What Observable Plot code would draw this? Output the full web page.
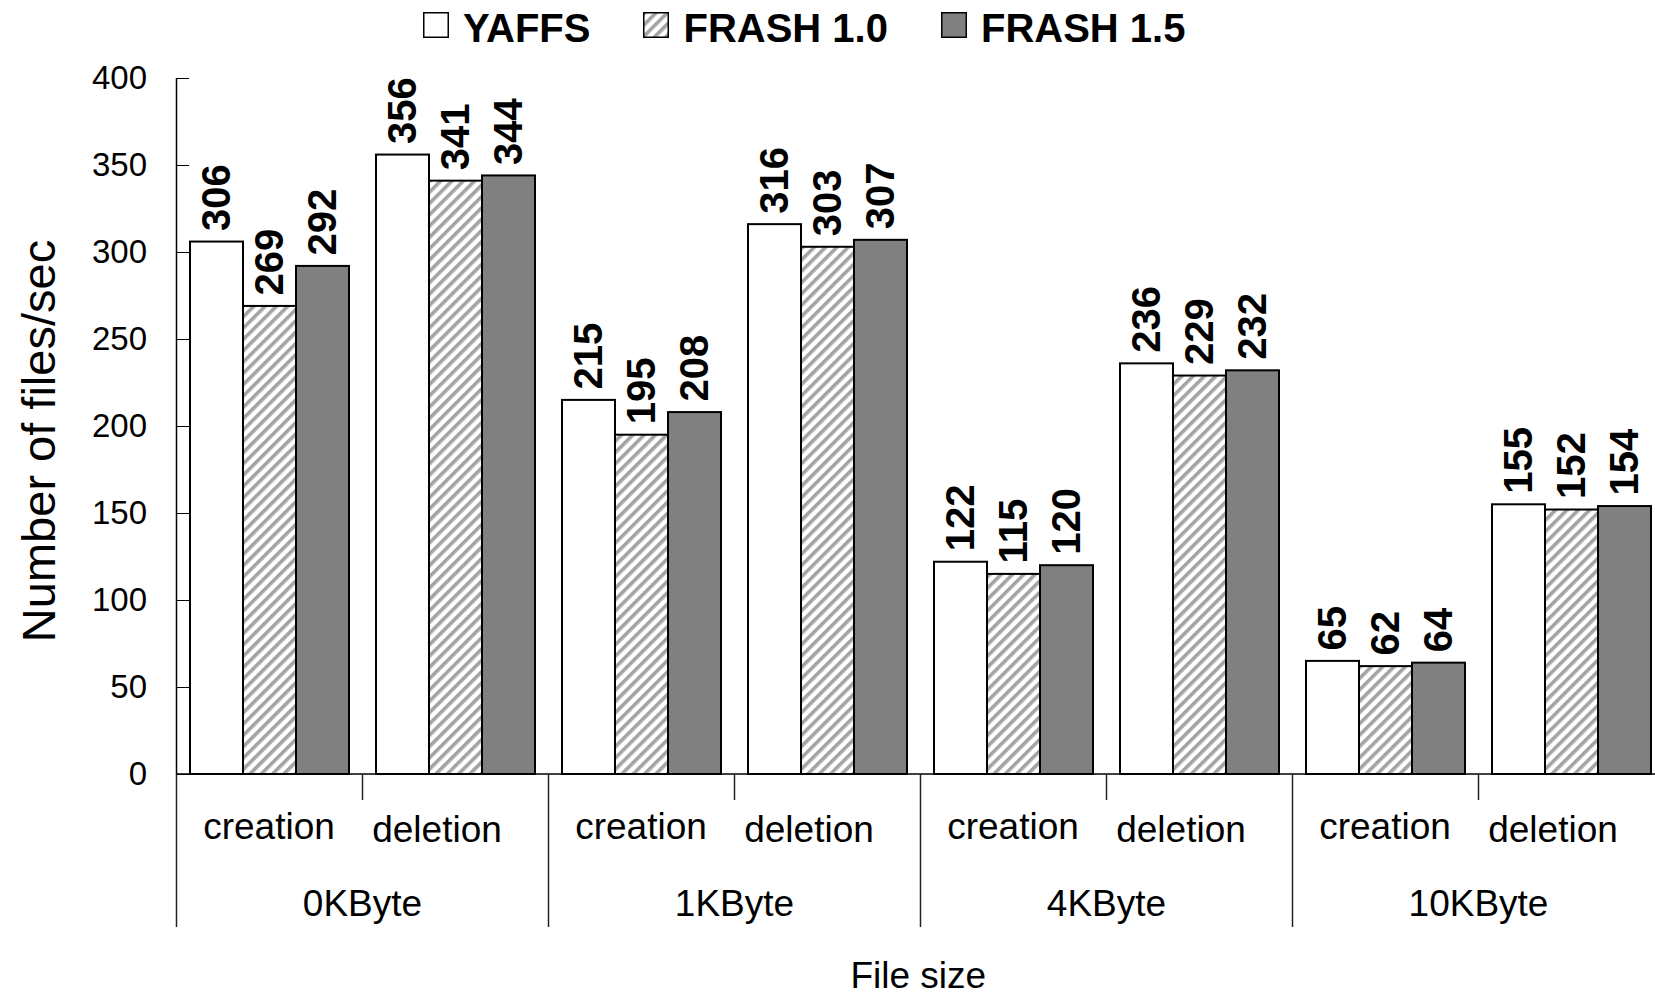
<!DOCTYPE html>
<html>
<head>
<meta charset="utf-8">
<script src="https://cdn.jsdelivr.net/npm/d3@7"></script>
<script src="https://cdn.jsdelivr.net/npm/@observablehq/plot@0.6"></script>
<style>
html, body { margin: 0; padding: 0; background: #fff; overflow: hidden; width: 1655px; height: 996px; }
body { font-family: "Liberation Sans", Arial, sans-serif; color: #000; }
#legend { height: 55px; display: flex; align-items: center; padding-left: 423px; box-sizing: border-box; }
.item { display: flex; align-items: center; margin-right: 53px; }
.item svg { position: relative; top: -3px; margin-right: 14px; display: block; }
.item span { font-size: 40px; font-weight: bold; line-height: 40px; white-space: nowrap; }
#chart { width: 1668px; }
</style>
</head>
<body>
<svg width="0" height="0" style="position:absolute">
  <defs>
    <pattern id="hatch" patternUnits="userSpaceOnUse" width="8" height="8" patternTransform="rotate(45)">
      <rect width="8" height="8" fill="white"></rect>
      <rect width="3.6" height="8" fill="#a3a3a3"></rect>
    </pattern>
  </defs>
</svg>
<div id="legend"></div>
<div id="chart"></div>
<script>
// ---- data ----
const sizes = ["0KByte", "1KByte", "4KByte", "10KByte"];
const ops = ["creation", "deletion"];
const series = ["YAFFS", "FRASH 1.0", "FRASH 1.5"];
// values in order: 0K creation, 0K deletion, 1K creation, 1K deletion, 4K ..., 10K ...
const yaffs   = [306, 356, 215, 316, 122, 236, 65, 155];
const frash10 = [269, 341, 195, 303, 115, 229, 62, 152];
const frash15 = [292, 344, 208, 307, 120, 232, 64, 154];
const yTicks = [0, 50, 100, 150, 200, 250, 300, 350, 400];
const fills = ["white", "url(#hatch)", "#808080"];

const keys = [];
sizes.forEach(s => ops.forEach(o => keys.push(s + "|" + o)));
const valuesBySeries = [yaffs, frash10, frash15];
const rows = [];
keys.forEach((k, i) => {
  series.forEach((s, j) => rows.push({key: k, series: s, value: valuesBySeries[j][i]}));
});
const labelRows = keys.map(k => ({key: k, size: k.split("|")[0], op: k.split("|")[1]}));

// ---- legend ----
const legend = d3.select("#legend");
series.forEach((s, j) => {
  const it = legend.append("div").attr("class", "item");
  const sv = it.append("svg").attr("width", 26).attr("height", 26);
  sv.append("rect").attr("x", 0.75).attr("y", 0.75).attr("width", 24.5).attr("height", 24.5)
    .attr("fill", fills[j]).attr("stroke", "black").attr("stroke-width", 1.5);
  it.append("span").text(s);
});

// ---- chart ----
const W = 1668, H = 941;
const plot = Plot.plot({
  width: W,
  height: H,
  marginLeft: 173,
  marginRight: 0,
  marginTop: 23,
  marginBottom: 222,
  style: {fontFamily: '"Liberation Sans", Arial, sans-serif', fontSize: "33px", background: "white", maxWidth: "none", color: "black"},
  fx: {domain: keys, paddingInner: 25 / 187, paddingOuter: 12.5 / 187, label: null, axis: null},
  x: {domain: series, padding: 0, axis: null},
  y: {domain: [0, 400], label: null},
  color: {domain: series, range: fills},
  marks: [
    Plot.barY(rows, {fx: "key", x: "series", y: "value", fill: "series", stroke: "black", strokeWidth: 2}),
    Plot.text(rows, {
      fx: "key", x: "series", y: "value", text: d => String(d.value),
      rotate: -90, textAnchor: "start", lineAnchor: "middle", dy: -11,
      fontSize: 40, fontWeight: "bold", fill: "black"
    }),
    Plot.axisY(yTicks, {tickSize: 12.5, tickPadding: 30, label: null, fontSize: 33}),
    Plot.text(labelRows.filter(d => d.op === "creation"), {
      fx: "key", text: "op", frameAnchor: "bottom", lineAnchor: "top",
      dy: 38, dx: -1, fontSize: 37, fill: "black"
    }),
    Plot.text(labelRows.filter(d => d.op === "deletion"), {
      fx: "key", text: "op", frameAnchor: "bottom", lineAnchor: "top",
      dy: 41, dx: -19, fontSize: 37, fill: "black"
    })
  ]
});
document.getElementById("chart").appendChild(plot);

// ---- axis decorations from the library's scales ----
const svg = d3.select(plot);
const fxs = plot.scale("fx"), ys = plot.scale("y");
const gap = fxs.step - fxs.bandwidth;
const leftOf = k => fxs.apply(k) - gap / 2;
const x0 = leftOf(keys[0]);
const yTop = ys.apply(400), yBase = ys.apply(0);
const g = svg.append("g").attr("stroke", "#222").attr("stroke-width", 1.5).attr("fill", "none");
g.append("line").attr("x1", x0).attr("x2", x0).attr("y1", yTop).attr("y2", yBase).attr("stroke", "black");
g.append("line").attr("x1", x0).attr("x2", W).attr("y1", yBase).attr("y2", yBase).attr("stroke", "black");
keys.forEach((k, i) => {
  const x = leftOf(k);
  const isGroup = i % 2 === 0;
  g.append("line").attr("x1", x).attr("x2", x).attr("y1", yBase).attr("y2", yBase + (isGroup ? 153 : 26));
});
const t = svg.append("g").attr("font-size", 37).attr("text-anchor", "middle").attr("fill", "black");
sizes.forEach((s, gi) => {
  const x = leftOf(keys[gi * 2]) + fxs.step;
  t.append("text").attr("x", x).attr("y", yBase + 142).text(s);
});
const plotCenter = (x0 + W) / 2;
t.append("text").attr("x", plotCenter - 4).attr("y", yBase + 214).text("File size");
svg.append("text")
  .attr("transform", `translate(55,${(yTop + yBase) / 2 + 15}) rotate(-90)`)
  .attr("text-anchor", "middle").attr("font-size", 47).attr("fill", "black")
  .text("Number of files/sec");
</script>
</body>
</html>
